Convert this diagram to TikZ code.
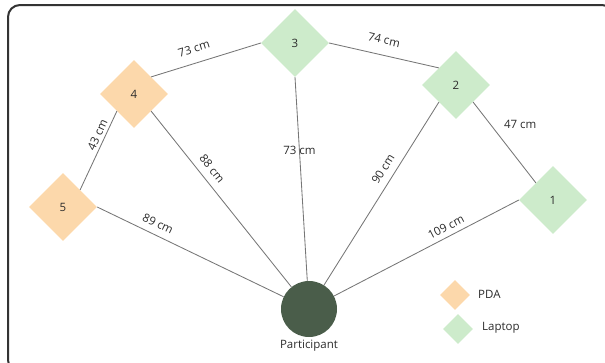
\documentclass[tikz,border=0pt]{standalone}
\usepackage{fontspec}
\setmainfont{Open Sans}
\usetikzlibrary{shapes.geometric}
\definecolor{pdaorange}{HTML}{FCD8AB}
\definecolor{laptopgreen}{HTML}{CDEBCB}
\definecolor{persongreen}{HTML}{4A5D4A}
\definecolor{linkgray}{HTML}{767676}
\definecolor{textgray}{HTML}{2B2B2B}
\begin{document}
\begin{tikzpicture}[x=1pt, y=-1pt,
  font=\fontsize{11.5}{13.5}\selectfont, text=textgray,
  device/.style={diamond, aspect=1, inner sep=0pt,
    minimum width=68pt, minimum height=68pt},
  pda/.style={device, fill=pdaorange},
  laptop/.style={device, fill=laptopgreen},
  keymark/.style={minimum width=30pt, minimum height=30pt},
  link/.style={draw=linkgray, line width=0.85pt},
  dist/.style={inner sep=0pt, sloped},
  plain/.style={inner sep=0pt}]

\useasboundingbox (0,0) rectangle (605,362);
\begin{scope}
  \clip (0,0) rectangle (605,362);
  \draw[line width=2pt, draw=black!80, rounded corners=12pt] (8,5) rectangle (614,372);
\end{scope}

% devices
\node[laptop] (n3) at (295,43) {3};
\node[pda]    (n4) at (134,94) {4};
\node[pda]    (n5) at (63,207) {5};
\node[laptop] (n2) at (456,85) {2};
\node[laptop] (n1) at (553,200) {1};

% participant
\node[circle, fill=persongreen, minimum size=56pt, inner sep=0pt] (p) at (309,309) {};
\node[plain, below=3pt] (plabel) at (p.south) {Participant};

% distances between devices
\draw[link] (n4.north east) -- node[dist, pos=0.43, above=10pt] {73 cm} (n3.west);
\draw[link] (n3.east) -- node[dist, pos=0.47, above=10.5pt] {74 cm} (n2.north west);
\draw[link] (n5.north east) -- node[dist, pos=0.66, above=3pt] {43 cm} (n4.south west);
\draw[link] (n2.south east) -- node[plain, pos=0.28, right=13pt] {47 cm} (n1.north west);

% distances to the participant
\draw[link] (n4.south east) -- node[dist, pos=0.37, above=7pt] {88 cm} (p);
\draw[link] (n5.east) -- node[dist, pos=0.30, above=6.8pt] {89 cm} (p);
\draw[link] (n3.south) -- node[plain, pos=0.36] {73 cm} (p);
\draw[link] (p) -- node[dist, pos=0.6, above=7pt] {90 cm} (n2.south west);
\draw[link] (p) -- node[dist, pos=0.63, above=5pt] {109 cm} (n1.west);

% legend
\node[pda, keymark] (kpda) at (455,295) {};
\node[plain, anchor=west] (kpdatext) at (478,294) {PDA};
\node[laptop, keymark] (klaptop) at (458,329) {};
\node[plain, anchor=west] (klaptoptext) at (482,328) {Laptop};
\end{tikzpicture}
\end{document}
